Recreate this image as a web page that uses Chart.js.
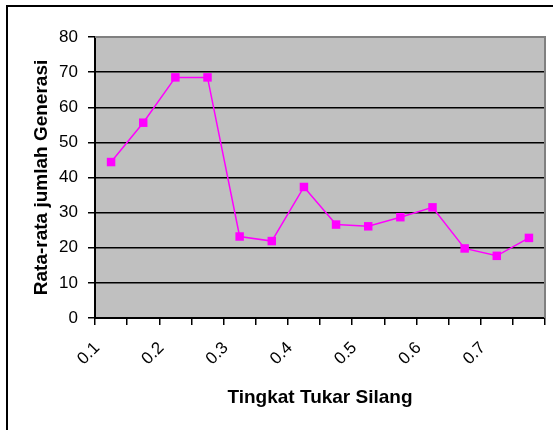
<!DOCTYPE html>
<html>
<head>
<meta charset="utf-8">
<script src="https://cdn.jsdelivr.net/npm/chart.js@4/dist/chart.umd.min.js"></script>
<style>
    html, body { margin: 0; padding: 0; background: #fff; }
    #wrap { position: relative; width: 553px; height: 430px; }
</style>
</head>
<body>
<div id="wrap"><canvas id="genChart"></canvas></div>
<script>
'use strict';

// ── Data ──────────────────────────────────────────────────
const rates = ['0.1', '0.15', '0.2', '0.25', '0.3', '0.35', '0.4', '0.45', '0.5', '0.55', '0.6', '0.65', '0.7', '0.75'];
const avgGenerations = [44.4, 55.6, 68.5, 68.5, 23.2, 21.9, 37.3, 26.6, 26.1, 28.7, 31.5, 19.8, 17.7, 22.8];
const yTicks = [0, 10, 20, 30, 40, 50, 60, 70, 80];

const font = "'Liberation Sans', Arial, sans-serif";

// gray plot area + outer frame, excel style
const plotBg = {
    id: 'plotBg',
    beforeDraw(chart) {
        const { ctx, chartArea: a } = chart;
        ctx.save();
        ctx.strokeStyle = '#000';
        ctx.lineWidth = 2;
        ctx.strokeRect(7, 6, 600, 500);
        ctx.fillStyle = '#c0c0c0';
        ctx.fillRect(a.left, a.top, a.right - a.left, a.bottom - a.top);
        ctx.restore();
    },
    beforeDatasetsDraw(chart) {
        const { ctx, chartArea: a } = chart;
        ctx.save();
        ctx.strokeStyle = '#808080';
        ctx.lineWidth = 2;
        ctx.beginPath();
        ctx.moveTo(a.left, a.top);
        ctx.lineTo(a.right, a.top);
        ctx.lineTo(a.right, a.bottom);
        ctx.stroke();
        ctx.restore();
    }
};

new Chart(document.getElementById('genChart'), {
    type: 'line',
    data: {
        labels: rates,
        datasets: [{
            data: avgGenerations,
            borderColor: '#ff00ff',
            backgroundColor: '#ff00ff',
            borderWidth: 1.5,
            tension: 0,
            pointStyle: 'rect',
            pointRadius: 6,
            pointBorderWidth: 0,
            pointBackgroundColor: '#ff00ff',
        }]
    },
    options: {
        responsive: true,
        maintainAspectRatio: false,
        animation: false,
        layout: { padding: { left: 30, top: 37, right: 8, bottom: 21 } },
        plugins: {
            legend: { display: false },
            tooltip: { enabled: false },
        },
        scales: {
            x: {
                offset: true,
                afterFit: (s) => {
                    s.height = 91;
                    s.paddingLeft = 0;
                    s.paddingRight = 0;
                },
                grid: {
                    offset: true,
                    drawOnChartArea: false,
                    drawTicks: true,
                    tickLength: 7,
                    color: '#000',
                    lineWidth: 1.5,
                },
                border: { color: '#000', width: 2 },
                ticks: {
                    autoSkip: false,
                    maxRotation: 45,
                    minRotation: 45,
                    labelOffset: -14,
                    padding: 13,
                    color: '#000',
                    font: { family: font, size: 17 },
                    callback: function (value, index) {
                        return index % 2 === 0 ? this.getLabelForValue(value) : '';
                    }
                },
                title: {
                    display: true,
                    text: 'Tingkat Tukar Silang',
                    color: '#000',
                    padding: 0,
                    font: { family: font, size: 19, weight: 'bold' }
                }
            },
            y: {
                min: 0,
                max: 80,
                afterFit: (s) => { s.width = 65; },
                afterBuildTicks: (s) => { s.ticks = yTicks.map(v => ({ value: v })); },
                grid: {
                    color: '#000',
                    lineWidth: 1.5,
                    tickLength: 7,
                },
                border: { color: '#000', width: 2 },
                ticks: {
                    padding: 10,
                    color: '#000',
                    font: { family: font, size: 17 },
                },
                title: {
                    display: true,
                    text: 'Rata-rata jumlah Generasi',
                    color: '#000',
                    padding: 0,
                    font: { family: font, size: 19, weight: 'bold' }
                }
            }
        }
    },
    plugins: [plotBg]
});
</script>
</body>
</html>
